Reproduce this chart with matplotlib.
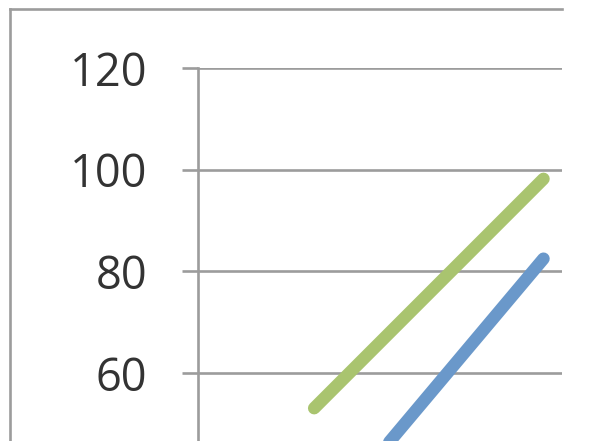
import matplotlib
matplotlib.use("Agg")
import matplotlib.pyplot as plt
from matplotlib.lines import Line2D

# Data
x_green = [3.2, 9.5]
green_values = [53.1, 98.2]
x_blue = [5.0, 9.5]
blue_values = [44.2, 82.5]
y_ticks = [60, 80, 100, 120]
y_tick_labels = ["60", "80", "100", "120"]

GREEN = "#A9C46F"
BLUE = "#6A98CA"
GRID = "#9C9C9C"
TEXT = "#333333"

DPI = 100
fig = plt.figure(figsize=(6.0, 4.41), dpi=DPI)
W, H = 600, 441

# axes placement in pixels
left_px, right_px, top_px = 197.7, 561.7, 68.0
ymin, ymax = 40, 120
px_per_unit = 101.7 / 20
height_px = (ymax - ymin) * px_per_unit
ax = fig.add_axes([left_px / W, (H - top_px - height_px) / H,
                   (right_px - left_px) / W, height_px / H])
ax.set_xlim(0, 10)
ax.set_ylim(ymin, ymax)
ax.set_facecolor("none")

for s in ["top", "right", "bottom"]:
    ax.spines[s].set_visible(False)
ax.spines["left"].set_color(GRID)
ax.spines["left"].set_linewidth(1.9)

ax.set_xticks([])
ax.set_yticks(y_ticks)
ax.set_yticklabels(y_tick_labels, fontname="Open Sans", fontsize=32.5, color=TEXT)
ax.tick_params(axis="y", direction="out", length=11.5, width=1.9,
               color=GRID, pad=25)
ax.yaxis.grid(True, color=GRID, linewidth=1.9)
ax.set_axisbelow(True)

ax.plot(x_green, green_values, color=GREEN, linewidth=9,
        solid_capstyle="round", zorder=3)
ax.plot(x_blue, blue_values, color=BLUE, linewidth=9,
        solid_capstyle="round", zorder=3)

# outer chart-area border (partially visible in the crop)
fig.add_artist(Line2D([10 / W, 562 / W], [(H - 9) / H, (H - 9) / H],
                      transform=fig.transFigure, color=GRID, linewidth=1.9))
fig.add_artist(Line2D([10 / W, 10 / W], [(H - 9) / H, 0],
                      transform=fig.transFigure, color=GRID, linewidth=1.9))

fig.savefig("out.png", dpi=DPI)
